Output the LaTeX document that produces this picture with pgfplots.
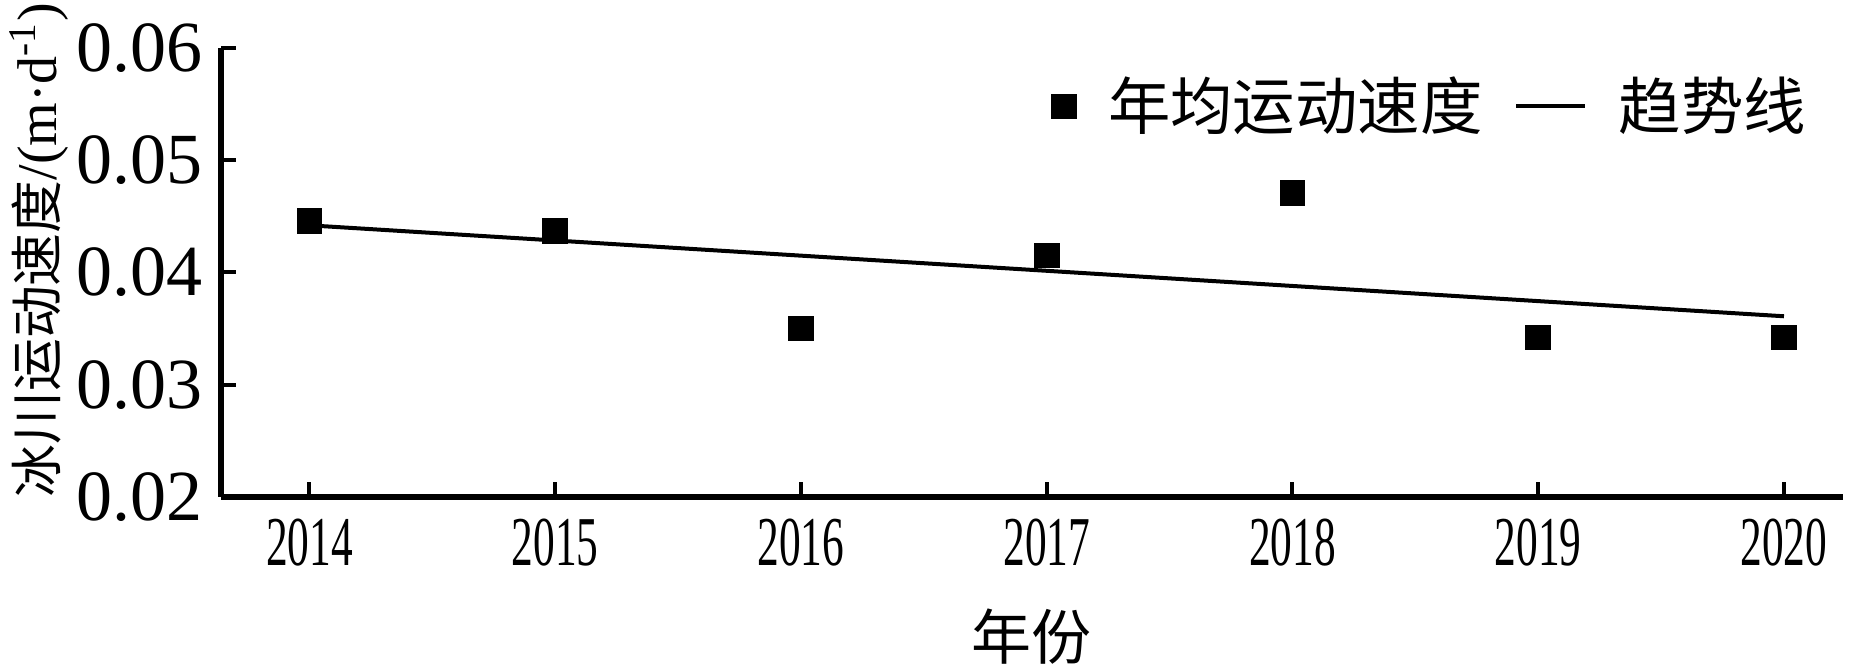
\documentclass[border=0pt]{standalone}
\usepackage{pgfplots}
\pgfplotsset{compat=1.18}
\usepackage{graphicx}
\usepackage{fontspec}
\setmainfont{Liberation Serif}
\newfontfamily\cjk{Noto Sans CJK SC}
\begin{document}
\begin{tikzpicture}
\useasboundingbox (0,0) rectangle (466.25pt,168pt);
\begin{axis}[
  at={(55.25pt,43.75pt)}, anchor=south west,
  scale only axis, width=405.5pt, height=112.25pt,
  xmin=2013.64, xmax=2020.24, ymin=0.02, ymax=0.06,
  axis line style={line width=1.3pt},
  axis x line*=bottom, axis y line*=left,
  separate axis lines,
  every outer x axis line/.append style={-},
  every outer y axis line/.append style={-},
  tick align=inside, major tick length=3.8pt,
  tick style={line width=1pt, black},
  scaled ticks=false,
  xtick={2014,2015,2016,2017,2018,2019,2020},
  xticklabels={\scalebox{0.62}[1]{2014},\scalebox{0.62}[1]{2015},\scalebox{0.62}[1]{2016},\scalebox{0.62}[1]{2017},\scalebox{0.62}[1]{2018},\scalebox{0.62}[1]{2019},\scalebox{0.62}[1]{2020}},
  xticklabel style={font=\fontsize{17.5}{18}\selectfont, yshift=-2pt},
  ytick={0.02,0.03,0.04,0.05,0.06},
  yticklabel style={font=\fontsize{18}{19}\selectfont, /pgf/number format/fixed, /pgf/number format/precision=2, /pgf/number format/fixed zerofill, xshift=-1pt},
  /pgf/number format/assume math mode=true,
  legend columns=2,
  legend style={draw=none, fill=none, at={(0.99,0.87)}, anchor=east,
    font=\cjk\fontsize{15.6}{17}\selectfont, column sep=6pt,
    /tikz/every even column/.append style={column sep=6pt}},
  clip=false,
]
\addplot[only marks, mark=square*, mark size=3pt, black] coordinates {
  (2014,0.0446) (2015,0.0437) (2016,0.0350) (2017,0.0415)
  (2018,0.0471) (2019,0.0342) (2020,0.0342)};
\addlegendentry{年均运动速度}
\addplot[black, line width=1pt] coordinates {(2014,0.0442) (2020,0.0361)};
\addlegendentry{趋势线}
\node[rotate=90, font=\cjk\fontsize{13.2}{15}\selectfont] at (axis description cs:-0.112,0.55) {冰川运动速度{\rmfamily\fontsize{14}{15}\selectfont/(m·d\textsuperscript{-1})}};
\node[font=\cjk\fontsize{15}{17}\selectfont] at (axis description cs:0.5,-0.31) {年份};
\end{axis}
\end{tikzpicture}
\end{document}
